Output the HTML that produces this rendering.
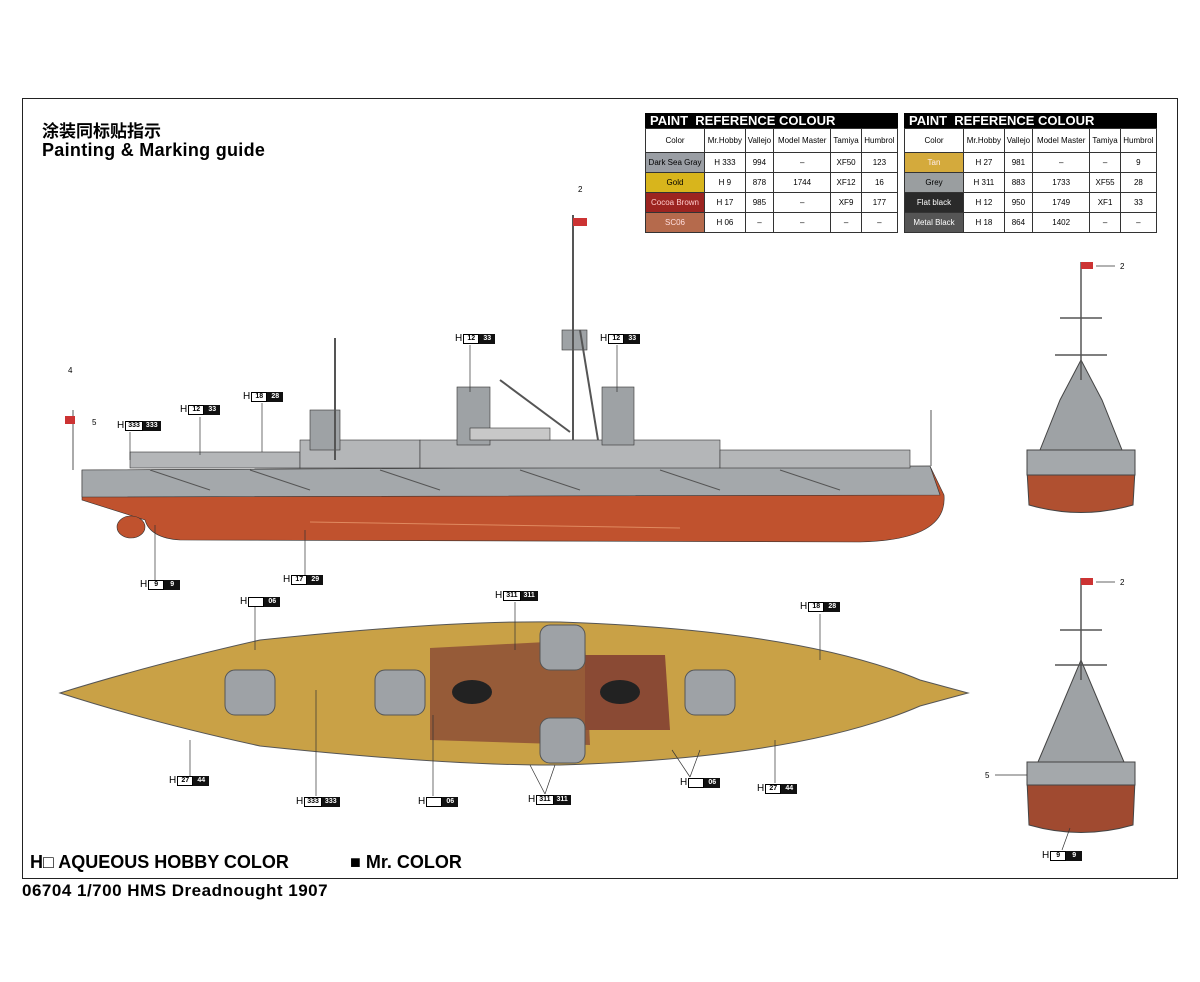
<!DOCTYPE html>
<html><head><meta charset="utf-8"><style>
body{margin:0;background:#fff;width:1200px;height:982px;position:relative;overflow:hidden;font-family:"Liberation Sans","Noto Sans CJK SC",sans-serif}
.a{position:absolute}
.b{position:absolute;font-size:9px;display:flex;align-items:center;height:10px;line-height:10px;font-weight:bold}
.b i{font-style:normal;font-size:10px;margin-right:1px;font-weight:normal}
.b s{text-decoration:none;border:1px solid #000;padding:0 2px;min-width:10px;text-align:center;font-size:7px;height:8px;line-height:8px}
.b u{text-decoration:none;background:#111;color:#fff;padding:0 3px;min-width:10px;text-align:center;font-size:7px;height:10px;line-height:10px}
table{border-collapse:collapse;font-size:8px;text-align:center}
td{border:1px solid #333;height:19px;padding:0}
.hd td{height:23px}
.t{background:#000;color:#fff;font-weight:bold;font-size:13px;padding-left:5px;height:15px;line-height:15px}
</style></head><body>
<div class="a" style="left:22px;top:98px;width:1154px;height:779px;border:1px solid #222"></div>
<div class="a" style="left:42px;top:117px;font-size:17px;font-weight:bold">涂装同标贴指示</div>
<div class="a" style="left:42px;top:140px;font-size:18px;font-weight:bold;letter-spacing:0.3px">Painting &amp; Marking guide</div>
<div class="a" style="left:30px;top:852px;font-size:18px;font-weight:bold">H□ AQUEOUS HOBBY COLOR</div>
<div class="a" style="left:350px;top:852px;font-size:18px;font-weight:bold">■ Mr. COLOR</div>
<div class="a" style="left:22px;top:881px;font-size:17px;font-weight:bold;letter-spacing:0.5px">06704 1/700 HMS Dreadnought 1907</div>

<div class="a" style="left:645px;top:113px;width:253px">
<div class="t">PAINT&nbsp; REFERENCE COLOUR</div>
<table style="width:253px"><tr class="hd"><td style="width:58px">Color</td><td>Mr.Hobby</td><td>Vallejo</td><td>Model Master</td><td>Tamiya</td><td>Humbrol</td></tr>
<tr><td style="background:#9a9ea4">Dark Sea Gray</td><td>H 333</td><td>994</td><td>–</td><td>XF50</td><td>123</td></tr>
<tr><td style="background:#d8b51c">Gold</td><td>H 9</td><td>878</td><td>1744</td><td>XF12</td><td>16</td></tr>
<tr><td style="background:#9c2420;color:#fcc">Cocoa Brown</td><td>H 17</td><td>985</td><td>–</td><td>XF9</td><td>177</td></tr>
<tr><td style="background:#b56a4c;color:#fdd">SC06</td><td>H 06</td><td>–</td><td>–</td><td>–</td><td>–</td></tr></table></div>

<div class="a" style="left:904px;top:113px;width:253px">
<div class="t">PAINT&nbsp; REFERENCE COLOUR</div>
<table style="width:253px"><tr class="hd"><td style="width:58px">Color</td><td>Mr.Hobby</td><td>Vallejo</td><td>Model Master</td><td>Tamiya</td><td>Humbrol</td></tr>
<tr><td style="background:#d4aa3c;color:#fee">Tan</td><td>H 27</td><td>981</td><td>–</td><td>–</td><td>9</td></tr>
<tr><td style="background:#9a9ea0">Grey</td><td>H 311</td><td>883</td><td>1733</td><td>XF55</td><td>28</td></tr>
<tr><td style="background:#2a2a2a;color:#fff">Flat black</td><td>H 12</td><td>950</td><td>1749</td><td>XF1</td><td>33</td></tr>
<tr><td style="background:#555;color:#fff">Metal Black</td><td>H 18</td><td>864</td><td>1402</td><td>–</td><td>–</td></tr></table></div>

<svg class="a" style="left:0;top:0" width="1200" height="982">
<g stroke="#333" stroke-width="0.6">
<path d="M82 470 L930 466 L944 495 Q948 540 860 542 L180 540 Q150 538 145 520 L82 500 Z" fill="#c0522e"/>
<path d="M82 470 L930 466 L940 495 L82 497 Z" fill="#a4a8ab"/>
<ellipse cx="131" cy="527" rx="14" ry="11" fill="#c0522e"/>
<rect x="130" y="452" width="170" height="16" fill="#b4b6b8"/>
<rect x="300" y="440" width="120" height="28" fill="#b4b6b8"/>
<rect x="420" y="440" width="300" height="28" fill="#b4b6b8"/>
<rect x="720" y="450" width="190" height="18" fill="#b4b6b8"/>
<rect x="457" y="387" width="33" height="58" fill="#9ea2a5"/>
<rect x="602" y="387" width="32" height="58" fill="#9ea2a5"/>
<rect x="470" y="428" width="80" height="12" fill="#c8c8c8"/>
<rect x="310" y="410" width="30" height="40" fill="#9ea2a5"/>
<rect x="562" y="330" width="25" height="20" fill="#9ea2a5"/>
</g>
<g stroke="#555" stroke-width="1">
<line x1="150" y1="470" x2="210" y2="490"/><line x1="250" y1="470" x2="310" y2="490"/><line x1="380" y1="470" x2="440" y2="490"/><line x1="520" y1="470" x2="580" y2="490"/><line x1="660" y1="470" x2="720" y2="490"/><line x1="780" y1="470" x2="840" y2="490"/>
</g>
<g stroke="#555" stroke-width="2">
<line x1="573" y1="215" x2="573" y2="440"/><line x1="580" y1="330" x2="598" y2="440"/>
<line x1="335" y1="338" x2="335" y2="460"/><line x1="500" y1="380" x2="570" y2="432"/>
<line x1="73" y1="410" x2="73" y2="470" stroke-width="1"/><line x1="931" y1="410" x2="931" y2="466" stroke-width="1"/>
</g>
<rect x="573" y="218" width="14" height="8" fill="#c33"/><rect x="65" y="416" width="10" height="8" fill="#c33"/>
<path d="M310 522 L680 528" stroke="#e08a60" fill="none"/>
<path d="M60 693 Q150 665 260 640 Q450 620 560 622 Q800 630 920 680 L968 693 L920 706 Q800 758 560 765 Q450 766 260 746 Q150 722 60 693 Z" fill="#c9a146" stroke="#555"/>
<path d="M430 648 L585 640 L590 745 L430 740 Z" fill="#8a4a34" opacity="0.8"/>
<path d="M585 655 L665 655 L670 730 L585 730 Z" fill="#8a4a34"/>
<g fill="#9ea2a6" stroke="#555">
<rect x="225" y="670" width="50" height="45" rx="10"/><rect x="375" y="670" width="50" height="45" rx="10"/>
<rect x="540" y="625" width="45" height="45" rx="10"/><rect x="540" y="718" width="45" height="45" rx="10"/>
<rect x="685" y="670" width="50" height="45" rx="10"/>
</g>
<ellipse cx="472" cy="692" rx="20" ry="12" fill="#222"/><ellipse cx="620" cy="692" rx="20" ry="12" fill="#222"/>
<g stroke="#444">
<path d="M1027 470 L1135 470 L1133 505 Q1081 520 1029 505 Z" fill="#b05030"/>
<rect x="1027" y="450" width="108" height="25" fill="#a4a8ab"/>
<path d="M1040 450 L1060 400 L1081 360 L1102 400 L1122 450 Z" fill="#9ea2a5"/>
<path d="M1027 780 L1135 780 L1133 825 Q1081 840 1029 825 Z" fill="#a04a30"/>
<rect x="1027" y="762" width="108" height="23" fill="#a4a8ab"/>
<path d="M1038 762 L1060 710 L1081 660 L1102 710 L1124 762 Z" fill="#9ea2a5"/>
</g>
<g stroke="#555" stroke-width="1.5"><line x1="1081" y1="262" x2="1081" y2="380"/><line x1="1060" y1="318" x2="1102" y2="318"/><line x1="1055" y1="355" x2="1107" y2="355"/>
<line x1="1081" y1="578" x2="1081" y2="680"/><line x1="1060" y1="630" x2="1102" y2="630"/><line x1="1055" y1="665" x2="1107" y2="665"/></g>
<rect x="1081" y="262" width="12" height="7" fill="#c33"/><rect x="1081" y="578" width="12" height="7" fill="#c33"/>
<g stroke="#333" stroke-width="0.7">
<line x1="470" y1="345" x2="470" y2="392"/><line x1="617" y1="345" x2="617" y2="392"/><line x1="200" y1="417" x2="200" y2="455"/>
<line x1="262" y1="403" x2="262" y2="452"/><line x1="130" y1="432" x2="130" y2="460"/><line x1="155" y1="525" x2="155" y2="580"/>
<line x1="305" y1="530" x2="305" y2="575"/><line x1="255" y1="607" x2="255" y2="650"/><line x1="515" y1="602" x2="515" y2="650"/>
<line x1="820" y1="614" x2="820" y2="660"/><line x1="190" y1="740" x2="190" y2="776"/><line x1="316" y1="690" x2="316" y2="796"/>
<line x1="433" y1="715" x2="433" y2="796"/><line x1="545" y1="794" x2="530" y2="765"/><line x1="545" y1="794" x2="555" y2="765"/>
<line x1="690" y1="777" x2="672" y2="750"/><line x1="690" y1="777" x2="700" y2="750"/><line x1="775" y1="783" x2="775" y2="740"/>
<line x1="995" y1="775" x2="1027" y2="775"/><line x1="1062" y1="850" x2="1070" y2="828"/><line x1="1096" y1="266" x2="1115" y2="266"/><line x1="1096" y1="582" x2="1115" y2="582"/>
</g>
<g font-size="8" font-family="Liberation Sans"><text x="578" y="192">2</text><text x="68" y="373">4</text><text x="92" y="425">5</text>
<text x="1120" y="269">2</text><text x="1120" y="585">2</text><text x="985" y="778">5</text></g>
</svg>

<div class="b" style="left:455px;top:334px"><i>H</i><s>12</s><u>33</u></div>
<div class="b" style="left:600px;top:334px"><i>H</i><s>12</s><u>33</u></div>
<div class="b" style="left:180px;top:405px"><i>H</i><s>12</s><u>33</u></div>
<div class="b" style="left:243px;top:392px"><i>H</i><s>18</s><u>28</u></div>
<div class="b" style="left:117px;top:421px"><i>H</i><s>333</s><u>333</u></div>
<div class="b" style="left:140px;top:580px"><i>H</i><s>9</s><u>9</u></div>
<div class="b" style="left:283px;top:575px"><i>H</i><s>17</s><u>29</u></div>
<div class="b" style="left:240px;top:597px"><i>H</i><s>&nbsp;&nbsp;&nbsp;</s><u>06</u></div>
<div class="b" style="left:495px;top:591px"><i>H</i><s>311</s><u>311</u></div>
<div class="b" style="left:800px;top:602px"><i>H</i><s>18</s><u>28</u></div>
<div class="b" style="left:169px;top:776px"><i>H</i><s>27</s><u>44</u></div>
<div class="b" style="left:296px;top:797px"><i>H</i><s>333</s><u>333</u></div>
<div class="b" style="left:418px;top:797px"><i>H</i><s>&nbsp;&nbsp;&nbsp;</s><u>06</u></div>
<div class="b" style="left:528px;top:795px"><i>H</i><s>311</s><u>311</u></div>
<div class="b" style="left:680px;top:778px"><i>H</i><s>&nbsp;&nbsp;&nbsp;</s><u>06</u></div>
<div class="b" style="left:757px;top:784px"><i>H</i><s>27</s><u>44</u></div>
<div class="b" style="left:1042px;top:851px"><i>H</i><s>9</s><u>9</u></div>
</body></html>
